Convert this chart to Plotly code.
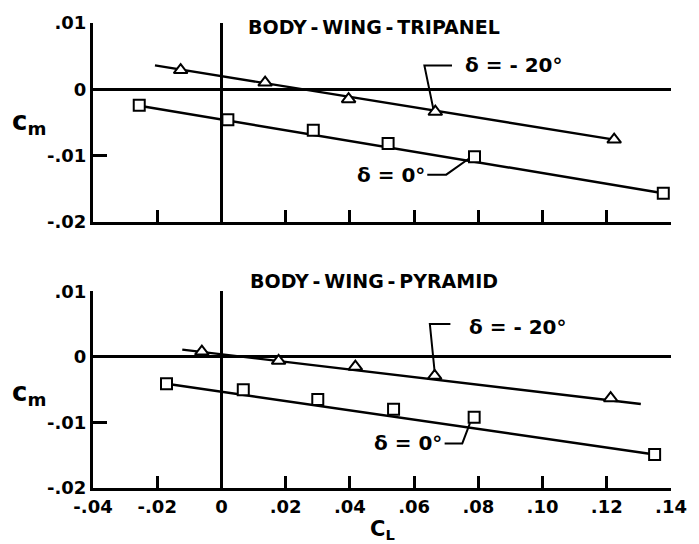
import plotly.graph_objects as go
from plotly.subplots import make_subplots

# ---- data ----
# Body-wing-tripanel
tri_d20_cl = [-0.0127, 0.0136, 0.0396, 0.0666, 0.1223]
tri_d20_cm = [0.0029, 0.0010, -0.0015, -0.0034, -0.0076]
tri_d20_fair_cl = [-0.0207, 0.1223]
tri_d20_fair_cm = [0.0036, -0.0076]

tri_d0_cl = [-0.0256, 0.0020, 0.0286, 0.0519, 0.0788, 0.1376]
tri_d0_cm = [-0.0024, -0.0046, -0.0062, -0.0082, -0.0102, -0.0157]
tri_d0_fair_cl = [-0.0256, 0.1376]
tri_d0_fair_cm = [-0.0025, -0.0157]

# Body-wing-pyramid
pyr_d20_cl = [-0.0061, 0.0178, 0.0417, 0.0664, 0.1212]
pyr_d20_cm = [0.0008, -0.0006, -0.0015, -0.0029, -0.0063]
pyr_d20_fair_cl = [-0.0122, 0.1306]
pyr_d20_fair_cm = [0.0011, -0.0072]

pyr_d0_cl = [-0.0171, 0.0068, 0.0300, 0.0536, 0.0787, 0.1349]
pyr_d0_cm = [-0.0041, -0.0050, -0.0065, -0.0080, -0.0092, -0.0149]
pyr_d0_fair_cl = [-0.0171, 0.1349]
pyr_d0_fair_cm = [-0.0041, -0.0149]

x_tickvals = [-0.04, -0.02, 0, 0.02, 0.04, 0.06, 0.08, 0.10, 0.12, 0.14]
x_ticktext = ["-.04", "-.02", "0", ".02", ".04", ".06", ".08", ".10", ".12", ".14"]
y_tickvals = [-0.02, -0.01, 0, 0.01]
y_ticktext = ["-.02", "-.01", "0", ".01"]

panel_titles = ["BODY\u2009-\u2009WING\u2009-\u2009TRIPANEL", "BODY\u2009-\u2009WING\u2009-\u2009PYRAMID"]
delta_labels = ["δ = - 20°", "δ = 0°"]

FONT = "DejaVu Sans"
W, HGT = 699, 544
ML, MR, MT, MB = 93, 17, 20, 56
PW = W - ML - MR
PH = HGT - MT - MB

fig = make_subplots(rows=2, cols=1)
top_lo = (HGT - MB - 220) / PH
bot_hi = (HGT - MB - 290) / PH

panels = [
    (1, tri_d20_cl, tri_d20_cm, tri_d20_fair_cl, tri_d20_fair_cm,
     tri_d0_cl, tri_d0_cm, tri_d0_fair_cl, tri_d0_fair_cm),
    (2, pyr_d20_cl, pyr_d20_cm, pyr_d20_fair_cl, pyr_d20_fair_cm,
     pyr_d0_cl, pyr_d0_cm, pyr_d0_fair_cl, pyr_d0_fair_cm),
]

for (r, a_cl, a_cm, af_cl, af_cm, b_cl, b_cm, bf_cl, bf_cm) in panels:
    for fx, fy in [(af_cl, af_cm), (bf_cl, bf_cm)]:
        fig.add_trace(go.Scatter(x=fx, y=fy, mode="lines",
                                 line=dict(color="black", width=2.4),
                                 showlegend=False, hoverinfo="skip"), row=r, col=1)
    fig.add_trace(go.Scatter(x=a_cl, y=a_cm, mode="markers",
                             marker=dict(symbol="triangle-up", size=12, color="white",
                                         line=dict(color="black", width=2)),
                             showlegend=False), row=r, col=1)
    fig.add_trace(go.Scatter(x=b_cl, y=b_cm, mode="markers",
                             marker=dict(symbol="square", size=11, color="white",
                                         line=dict(color="black", width=2)),
                             showlegend=False), row=r, col=1)

# leader lines from labels to curves
leaders = [
    ([0.0718, 0.0632, 0.0660], [0.0036, 0.0036, -0.0030], 1),
    ([0.0641, 0.0700, 0.0770], [-0.0129, -0.0129, -0.0105], 1),
    ([0.0713, 0.0649, 0.0664], [0.0050, 0.0050, -0.0023], 2),
    ([0.0695, 0.0750, 0.0774], [-0.0132, -0.0132, -0.0101], 2),
]
for lx, ly, r in leaders:
    fig.add_trace(go.Scatter(x=lx, y=ly, mode="lines", line=dict(color="black", width=2),
                             showlegend=False, hoverinfo="skip"), row=r, col=1)

axis_common = dict(showline=True, linecolor="black", linewidth=3, mirror=False,
                   ticks="inside", tickcolor="black", tickwidth=2.5,
                   showgrid=False, zeroline=True, zerolinecolor="black", zerolinewidth=3,
                   tickfont=dict(family=FONT, size=18, color="black", weight="bold"))

for r in (1, 2):
    fig.update_xaxes(range=[-0.04, 0.14], tickvals=x_tickvals, ticktext=x_ticktext,
                     showticklabels=(r == 2), ticklen=12, row=r, col=1, **axis_common)
    fig.update_yaxes(range=[-0.02, 0.01], tickvals=y_tickvals, ticktext=y_ticktext,
                     ticklen=14, row=r, col=1, **axis_common)

fig.update_layout(
    xaxis=dict(domain=[0, 1]), xaxis2=dict(domain=[0, 1]),
    yaxis=dict(domain=[top_lo, 1]), yaxis2=dict(domain=[0, bot_hi]),
)

ann = []
# panel titles (paper coordinates)
for t, yp in zip(panel_titles, (24, 280)):
    ann.append(dict(text=t, x=(379 - ML) / PW, y=(HGT - MB - yp) / PH,
                    xref="paper", yref="paper", xanchor="center", yanchor="middle",
                    showarrow=False,
                    font=dict(family=FONT, size=19, color="black", weight="bold")))

# delta labels
label_pos = [
    (0, 0.0911, 0.0036, "x", "y"),
    (1, 0.0528, -0.0129, "x", "y"),
    (0, 0.0924, 0.0045, "x2", "y2"),
    (1, 0.0582, -0.0132, "x2", "y2"),
]
for i, x, y, xr, yr in label_pos:
    ann.append(dict(text=delta_labels[i], x=x, y=y, xref=xr, yref=yr, showarrow=False,
                    font=dict(family=FONT, size=20, color="black", weight="bold")))

# axis titles in paper coordinates
for yp in (120, 393):
    ann.append(dict(text="c<sub>m</sub>", x=(28 - ML) / PW,
                    y=(HGT - MB - yp) / PH, xref="paper", yref="paper",
                    xanchor="center", yanchor="middle", showarrow=False,
                    font=dict(family=FONT, size=26, color="black", weight="bold")))
ann.append(dict(text="C<sub>L</sub>", x=(388 - ML) / PW,
                y=(HGT - MB - 530) / PH, xref="paper", yref="paper",
                xanchor="center", yanchor="middle", showarrow=False,
                font=dict(family=FONT, size=21, color="black", weight="bold")))

fig.update_layout(
    annotations=ann,
    width=W, height=HGT,
    margin=dict(l=ML, r=MR, t=MT, b=MB),
    paper_bgcolor="white", plot_bgcolor="white",
    showlegend=False,
)

fig.write_html("out.html")
